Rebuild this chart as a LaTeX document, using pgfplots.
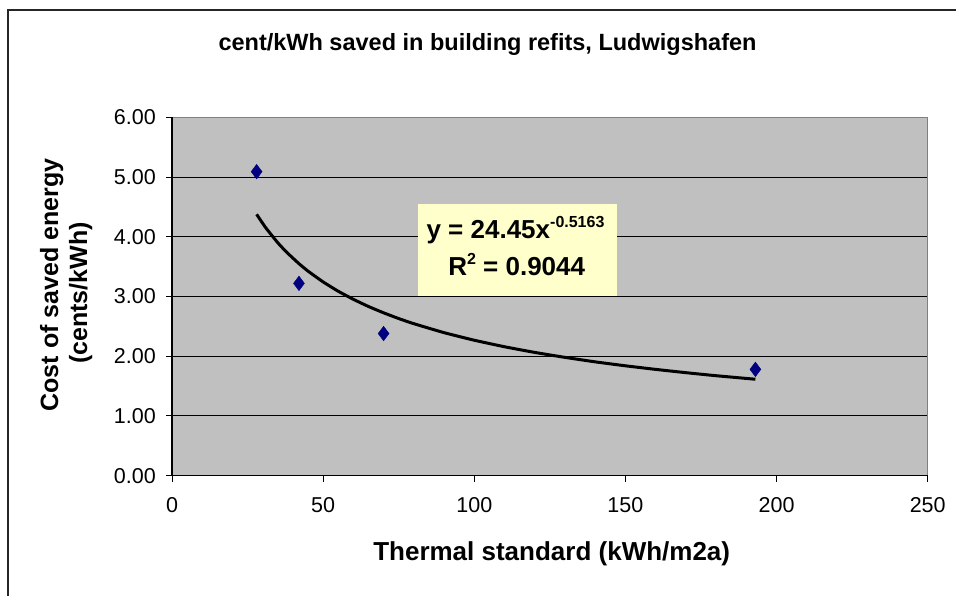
\documentclass[border=0pt]{standalone}
\usepackage{pgfplots}
\pgfplotsset{compat=1.18}
\usepackage{fontspec}
\setmainfont{Liberation Sans}
\definecolor{plotgray}{HTML}{C0C0C0}
\definecolor{bordergray}{HTML}{808080}
\definecolor{navy}{HTML}{000080}
\definecolor{boxyellow}{HTML}{FFFFCC}
\begin{document}
\begin{tikzpicture}[x=1pt,y=1pt]
\path[use as bounding box] (0,0) rectangle (956,-595);
% chart frame (cropped)
\draw[line width=1.5pt, black!85] (8,-600) -- (8,-10) -- (960,-10);
\begin{axis}[
  at={(172pt,-475.7pt)}, anchor=south west,
  scale only axis, width=755.7pt, height=358.4pt,
  xmin=0, xmax=250, ymin=0, ymax=6,
  xtick={0,50,100,150,200,250},
  xticklabels={0,50,100,150,200,250},
  ytick={0,1,2,3,4,5,6},
  yticklabels={0.00,1.00,2.00,3.00,4.00,5.00,6.00},
  ymajorgrids,
  grid style={black, line width=1pt},
  axis background/.style={fill=plotgray},
  axis line style={draw=bordergray, line width=1.5pt},
  tick align=outside,
  xtick pos=left, ytick pos=left,
  major tick length=6pt,
  every tick/.style={black, line width=1pt},
  tick label style={font=\fontsize{21.5}{24}\selectfont},
  yticklabel style={inner sep=0pt, xshift=-10pt, font=\fontsize{21.5}{24}\selectfont},
  xticklabel style={inner sep=0pt, yshift=-16pt, font=\fontsize{21.5}{24}\selectfont},
  clip=false,
]
\addplot[black, line width=3pt, smooth, tension=0.3] coordinates {
(28,4.376) (31,4.152) (35,3.900) (38,3.738) (42,3.550) (45,3.425) (50,3.244)
(55,3.088) (60,2.953) (65,2.833) (70,2.727) (75,2.631) (80,2.545) (90,2.395)
(100,2.268) (110,2.159) (120,2.064) (130,1.981) (140,1.906) (150,1.840)
(160,1.780) (170,1.725) (180,1.674) (193,1.615)
};
\addplot[only marks, mark=diamond*, mark size=7.3pt, navy, mark options={fill=navy, draw=navy}] coordinates {
(28,5.09) (42,3.22) (70,2.38) (193,1.78)
};
\draw[black, line width=1.5pt] (rel axis cs:0,1) -- (rel axis cs:0,0) -- (rel axis cs:1,0);
\end{axis}
% equation box
\fill[boxyellow] (417.7,-204) rectangle (616.7,-295.7);
\node[anchor=base, inner sep=0pt, font=\bfseries\fontsize{26}{30}\selectfont] at (515.5,-238)
  {y = 24.45x\raisebox{11pt}{\fontsize{16}{18}\selectfont -0.5163}};
\node[anchor=base, inner sep=0pt, font=\bfseries\fontsize{26}{30}\selectfont] at (516.7,-275)
  {R\raisebox{11pt}{\fontsize{16}{18}\selectfont 2} = 0.9044};
% title
\node[anchor=base, inner sep=0pt, font=\bfseries\fontsize{23.5}{28}\selectfont] at (487.5,-50)
  {cent/kWh saved in building refits, Ludwigshafen};
% axis titles
\node[anchor=base, inner sep=0pt, font=\bfseries\fontsize{26}{30}\selectfont] at (551.7,-560)
  {Thermal standard (kWh/m2a)};
\node[anchor=base, rotate=90, inner sep=0pt, font=\bfseries\fontsize{25}{28}\selectfont] at (58,-285)
  {Cost of saved energy};
\node[anchor=base, rotate=90, inner sep=0pt, font=\bfseries\fontsize{25}{28}\selectfont] at (87,-293)
  {(cents/kWh)};
\end{tikzpicture}
\end{document}
